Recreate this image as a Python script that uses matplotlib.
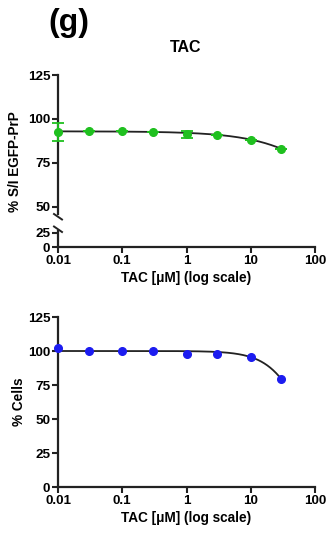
import numpy as np
import matplotlib
matplotlib.use("Agg")
import matplotlib.pyplot as plt

plt.rcParams['font.family'] = ['Liberation Sans', 'DejaVu Sans']
plt.rcParams['font.weight'] = 'bold'

# Data
conc = [0.01, 0.03, 0.1, 0.3, 1, 3, 10, 30]
egfp = [92.7, 92.9, 93.0, 92.4, 91.2, 90.8, 88.0, 83.2]
egfp_err = [5.0, 0, 0, 0, 2.0, 0, 0, 0]
cells = [102.2, 100.0, 100.0, 100.0, 98.0, 97.5, 95.5, 79.3]
# 4-parameter logistic fit parameters: top, bottom, IC50, hill
fit_egfp = (93.0, 0.0, 526.0, 0.74)
fit_cells = (100.0, 0.0, 71.0, 1.56)
xticks = [0.01, 0.1, 1, 10, 100]
xticklabels = ['0.01', '0.1', '1', '10', '100']

green = '#1fc01f'
blue = '#1c1cf0'

def logistic(x, p):
    top, bot, ic, h = p
    return bot + (top - bot) / (1 + (x / ic) ** h)

W, H = 329, 533
fig = plt.figure(figsize=(W / 100, H / 100), dpi=100)

def fx(px):
    return px / W

def fy(py):
    return 1 - py / H

left = fx(58)
width = fx(315) - left
TICK_FS = 9.7
LAB_FS = 9.8

def style(ax):
    ax.set_xscale('log')
    ax.set_xlim(0.01, 100)
    for s in ['top', 'right']:
        ax.spines[s].set_visible(False)
    for s in ['left', 'bottom']:
        ax.spines[s].set_linewidth(1.6)
        ax.spines[s].set_color('#222222')
    ax.tick_params(axis='both', which='major', length=4, width=1.5,
                   labelsize=TICK_FS, color='#222222', pad=1.5)
    ax.tick_params(axis='both', which='minor', length=0)
    ax.patch.set_alpha(0)

xs = np.logspace(np.log10(0.01), np.log10(30), 300)

# Top chart: upper segment
ax1 = fig.add_axes([left, fy(214), width, fy(75) - fy(214)])
style(ax1)
ax1.set_ylim(46, 125)
ax1.set_yticks([50, 75, 100, 125])
ax1.spines['bottom'].set_visible(False)
ax1.tick_params(axis='x', which='both', bottom=False, labelbottom=False)
ax1.plot(xs, logistic(xs, fit_egfp), color='#222222', lw=1.3, zorder=2)
ax1.errorbar(conc, egfp, yerr=egfp_err, fmt='o', color=green, ms=5.5,
             capsize=4, elinewidth=1.3, capthick=1.3, zorder=3, clip_on=False)
for lab in ax1.get_yticklabels():
    lab.set_fontweight('bold')

fig.text(fx(186), fy(47), 'TAC', fontsize=11.5, fontweight='bold',
         ha='center', va='center')

# Top chart: lower segment
ax2 = fig.add_axes([left, fy(247), width, fy(231) - fy(247)])
style(ax2)
ax2.set_ylim(0, 28)
ax2.set_yticks([0, 25])
ax2.set_xticks(xticks)
ax2.set_xticklabels(xticklabels)
ax2.set_xlabel('TAC [\u03bcM] (log scale)', fontsize=LAB_FS, fontweight='bold', labelpad=3)
for lab in ax2.get_yticklabels() + ax2.get_xticklabels():
    lab.set_fontweight('bold')

# break marks
for y0 in (214, 226.5):
    fig.add_artist(plt.Line2D([fx(54), fx(62)], [fy(y0), fy(y0 + 5.5)],
                              color='#222222', lw=1.4))

fig.text(fx(15), fy(162), '% S/I EGFP-PrP', rotation=90,
         ha='center', va='center', fontsize=LAB_FS, fontweight='bold')

# Bottom chart
ax3 = fig.add_axes([left, fy(487), width, fy(317) - fy(487)])
style(ax3)
ax3.set_ylim(0, 125)
ax3.set_yticks([0, 25, 50, 75, 100, 125])
ax3.set_xticks(xticks)
ax3.set_xticklabels(xticklabels)
ax3.plot(xs, logistic(xs, fit_cells), color='#222222', lw=1.3, zorder=2)
ax3.plot(conc, cells, 'o', color=blue, ms=5.5, zorder=3, clip_on=False)
ax3.set_xlabel('TAC [\u03bcM] (log scale)', fontsize=LAB_FS, fontweight='bold', labelpad=3)
for lab in ax3.get_yticklabels() + ax3.get_xticklabels():
    lab.set_fontweight('bold')

fig.text(fx(19), fy(402), '% Cells', rotation=90,
         ha='center', va='center', fontsize=LAB_FS, fontweight='bold')

fig.text(fx(69), fy(23), '(g)', fontsize=23, fontweight='bold',
         ha='center', va='center')

fig.savefig('out.png', dpi=100)
